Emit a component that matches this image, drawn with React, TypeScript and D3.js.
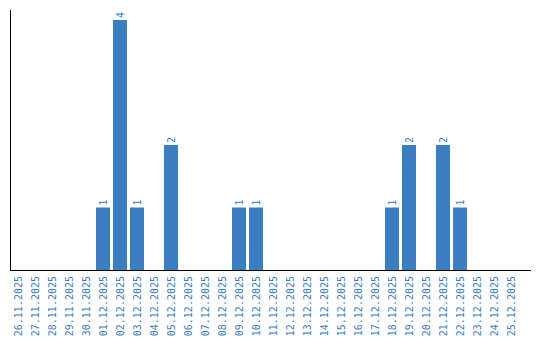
import React from "react";
import * as d3 from "d3";

const dates = [
  "26.11.2025", "27.11.2025", "28.11.2025", "29.11.2025", "30.11.2025",
  "01.12.2025", "02.12.2025", "03.12.2025", "04.12.2025", "05.12.2025",
  "06.12.2025", "07.12.2025", "08.12.2025", "09.12.2025", "10.12.2025",
  "11.12.2025", "12.12.2025", "13.12.2025", "14.12.2025", "15.12.2025",
  "16.12.2025", "17.12.2025", "18.12.2025", "19.12.2025", "20.12.2025",
  "21.12.2025", "22.12.2025", "23.12.2025", "24.12.2025", "25.12.2025",
];
const counts = [
  0, 0, 0, 0, 0,
  1, 4, 1, 0, 2,
  0, 0, 0, 1, 1,
  0, 0, 0, 0, 0,
  0, 0, 1, 2, 0,
  2, 1, 0, 0, 0,
];

const COLOR = "#3b7ec2";
const FONT = "'DejaVu Sans Mono', monospace";

export default function App() {
  const width = 540;
  const height = 340;
  const x = d3.scaleBand<string>().domain(dates).range([11, 518]).paddingInner(3 / 17).paddingOuter(0);
  const y = d3.scaleLinear().domain([0, 4]).range([270, 20]);
  const baseY = 270;

  return (
    <svg width={width} height={height} style={{ position: "absolute", left: 0, top: 0 }}>
      <rect width={width} height={height} fill="#fff" />
      {dates.map((d, i) =>
        counts[i] > 0 ? (
          <g key={d}>
            <rect
              x={x(d)!}
              y={y(counts[i])}
              width={x.bandwidth()}
              height={baseY - y(counts[i])}
              fill={COLOR}
            />
            <text
              transform={`translate(${x(d)! + x.bandwidth() / 2},${y(counts[i]) - 2}) rotate(-90)`}
              dy="0.35em"
              fontFamily={FONT}
              fontSize={10}
              fill={COLOR}
              textAnchor="start"
            >
              {counts[i]}
            </text>
          </g>
        ) : null
      )}
      <line x1={10.5} x2={10.5} y1={10} y2={271} stroke="#000" strokeWidth={1} />
      <line x1={10} x2={531} y1={270.5} y2={270.5} stroke="#000" strokeWidth={1} />
      {dates.map((d) => (
        <text
          key={"l" + d}
          transform={`translate(${x(d)! + x.bandwidth() / 2},276) rotate(-90)`}
          dy="0.35em"
          fontFamily={FONT}
          fontSize={10}
          fill={COLOR}
          textAnchor="end"
        >
          {d}
        </text>
      ))}
    </svg>
  );
}
